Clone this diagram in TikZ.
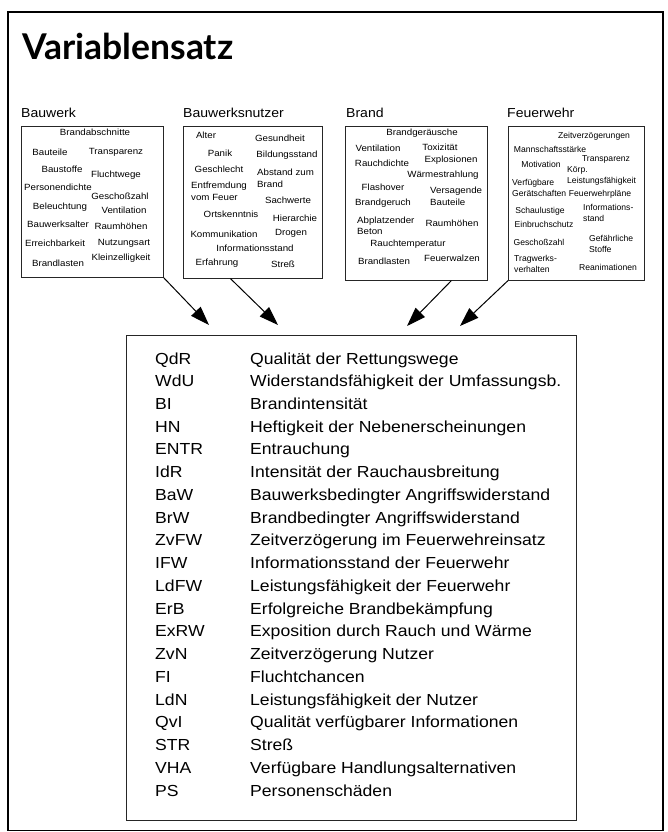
\documentclass[tikz,border=0pt]{standalone}
\usepackage{fontspec}
\setmainfont{Liberation Sans}
\newfontfamily\listfont{Liberation Sans}[FakeStretch=1.1]
\newfontfamily\smallfont{Liberation Sans}[FakeStretch=1.08]
\newfontfamily\titlefont{Lato}
\usetikzlibrary{arrows.meta,calc}
\tikzset{
  frame/.style={draw=black, line width=1.1pt},
  catbox/.style={draw=black!85, line width=0.6pt, inner sep=0pt, anchor=north west},
  listbox/.style={draw=black!85, line width=0.7pt},
  catlabel/.style={anchor=west, inner sep=0pt, font=\smallfont\fontsize{13}{15}\selectfont},
  w/.style={inner sep=0pt, font=\smallfont\fontsize{9}{11.5}\selectfont, align=center},
  wl/.style={inner sep=0pt, font=\smallfont\fontsize{9}{11.5}\selectfont, align=left, anchor=west},
  wf/.style={inner sep=0pt, font=\fontsize{8.6}{11}\selectfont, align=center},
  wfl/.style={inner sep=0pt, font=\fontsize{8.6}{11}\selectfont, align=left, anchor=west},
  abbr/.style={inner sep=0pt, anchor=base west, font=\listfont\fontsize{16}{18}\selectfont},
  desc/.style={inner sep=0pt, anchor=base west, font=\listfont\fontsize{16}{18}\selectfont},
  bigarrow/.style={line width=1pt, -{Triangle[length=19pt,width=13pt]}}
}
\begin{document}
\begin{tikzpicture}[x=1pt,y=-1pt]
\useasboundingbox (0,0) rectangle (668,832);
\draw[frame] (8,12) rectangle (663,830.5);
\node[anchor=base west, inner sep=0pt, font=\titlefont\bfseries\fontsize{35.5}{38}\selectfont] (title) at (22,60) {Variablensatz};

% category labels
\node[catlabel] (lbw) at (21,113) {Bauwerk};
\node[catlabel] (lbn) at (183,113) {Bauwerksnutzer};
\node[catlabel] (lbr) at (346,113) {Brand};
\node[catlabel] (lfw) at (507,113) {Feuerwehr};

% category boxes
\node[catbox, minimum width=142pt, minimum height=151pt] (bw) at (21,126) {};
\node[catbox, minimum width=139pt, minimum height=152pt] (bn) at (183,126) {};
\node[catbox, minimum width=142pt, minimum height=154pt] (br) at (345,126) {};
\node[catbox, minimum width=136pt, minimum height=154pt] (fw) at (508,126) {};

% Bauwerk
\node[w] (a1) at (95,132) {Brandabschnitte};
\node[w] (a2) at (50,152) {Bauteile};
\node[w] (a3) at (116,152) {Transparenz};
\node[w] (a4) at (62,169) {Baustoffe};
\node[w] (a5) at (116,175) {Fluchtwege};
\node[w] (a6) at (58,187) {Personendichte};
\node[w] (a7) at (120,196) {Geschoßzahl};
\node[w] (a8) at (60,207) {Beleuchtung};
\node[w] (a9) at (124,210) {Ventilation};
\node[w] (a10) at (58,224) {Bauwerksalter};
\node[w] (a11) at (121,226) {Raumhöhen};
\node[w] (a12) at (55,243) {Erreichbarkeit};
\node[w] (a13) at (124,243) {Nutzungsart};
\node[w] (a14) at (58,263) {Brandlasten};
\node[w] (a15) at (121,258) {Kleinzelligkeit};

% Bauwerksnutzer
\node[w] (b1) at (206,135) {Alter};
\node[w] (b2) at (280,138) {Gesundheit};
\node[w] (b3) at (220,153) {Panik};
\node[w] (b4) at (287,155) {Bildungsstand};
\node[w] (b5) at (219,169) {Geschlecht};
\node[wl] (b6) at (257,178.5) {Abstand zum\\Brand};
\node[wl] (b7) at (191,191.5) {Entfremdung\\vom Feuer};
\node[w] (b8) at (288,200) {Sachwerte};
\node[w] (b9) at (231,214) {Ortskenntnis};
\node[w] (b10) at (295,218) {Hierarchie};
\node[w] (b11) at (224,234) {Kommunikation};
\node[w] (b12) at (291,233) {Drogen};
\node[w] (b13) at (255,248) {Informationsstand};
\node[w] (b14) at (217,263) {Erfahrung};
\node[w] (b15) at (283,264) {Streß};

% Brand
\node[w] (c1) at (422,133) {Brandgeräusche};
\node[w] (c2) at (378,148) {Ventilation};
\node[w] (c3) at (440,147) {Toxizität};
\node[w] (c4) at (382,163) {Rauchdichte};
\node[w] (c5) at (451,160) {Explosionen};
\node[w] (c6) at (443,175) {Wärmestrahlung};
\node[w] (c7) at (383,187) {Flashover};
\node[wl] (c8) at (430,196.5) {Versagende\\Bauteile};
\node[w] (c9) at (383,203) {Brandgeruch};
\node[wl] (c10) at (357,226) {Abplatzender\\Beton};
\node[w] (c11) at (452,223) {Raumhöhen};
\node[w] (c12) at (408,244) {Rauchtemperatur};
\node[w] (c13) at (384,261) {Brandlasten};
\node[w] (c14) at (452,258) {Feuerwalzen};

% Feuerwehr
\node[wf] (d1) at (594,136) {Zeitverzögerungen};
\node[wf] (d2) at (550,149) {Mannschaftsstärke};
\node[wf] (d3) at (606,159) {Transparenz};
\node[wf] (d4) at (541,164) {Motivation};
\node[wfl] (d5) at (567,176) {Körp.\\Leistungsfähigkeit};
\node[wfl] (d6) at (512,187.5) {Verfügbare\\Gerätschaften};
\node[wf] (d7) at (600,194) {Feuerwehrpläne};
\node[wf] (d8) at (540,211) {Schaulustige};
\node[wfl] (d9) at (583,213) {Informations-\\stand};
\node[wf] (d10) at (544,224) {Einbruchschutz};
\node[wf] (d11) at (539,242) {Geschoßzahl};
\node[wfl] (d12) at (589,243.5) {Gefährliche\\Stoffe};
\node[wfl] (d13) at (514,264) {Tragwerks-\\verhalten};
\node[wf] (d14) at (608,267) {Reanimationen};

% list box
\node[listbox, anchor=north west, minimum width=450pt, minimum height=485pt, inner sep=0pt] (lst) at (126,335) {};

\foreach \ab/\de [count=\i from 0] in {
  QdR/Qualität der Rettungswege,
  WdU/Widerstandsfähigkeit der Umfassungsb.,
  BI/Brandintensität,
  HN/Heftigkeit der Nebenerscheinungen,
  ENTR/Entrauchung,
  IdR/Intensität der Rauchausbreitung,
  BaW/Bauwerksbedingter Angriffswiderstand,
  BrW/Brandbedingter Angriffswiderstand,
  ZvFW/Zeitverzögerung im Feuerwehreinsatz,
  IFW/Informationsstand der Feuerwehr,
  LdFW/Leistungsfähigkeit der Feuerwehr,
  ErB/Erfolgreiche Brandbekämpfung,
  ExRW/Exposition durch Rauch und Wärme,
  ZvN/Zeitverzögerung Nutzer,
  FI/Fluchtchancen,
  LdN/Leistungsfähigkeit der Nutzer,
  QvI/Qualität verfügbarer Informationen,
  STR/Streß,
  VHA/Verfügbare Handlungsalternativen,
  PS/Personenschäden}
{
  \node[abbr] (ab\i) at (155,{364+\i*22.74}) {\ab};
  \node[desc] (de\i) at (250,{364+\i*22.74}) {\de};
}

% arrows
\coordinate (t1) at (209,325);
\coordinate (t2) at (278,325);
\coordinate (t3) at (407,326);
\coordinate (t4) at (460,326);
\draw[bigarrow] (bw.south east) -- (t1);
\draw[bigarrow] ($(bn.south west)!0.34!(bn.south east)$) -- (t2);
\draw[bigarrow] ($(br.south west)!0.746!(br.south east)$) -- (t3);
\draw[bigarrow] (fw.south west) -- (t4);
\end{tikzpicture}
\end{document}
